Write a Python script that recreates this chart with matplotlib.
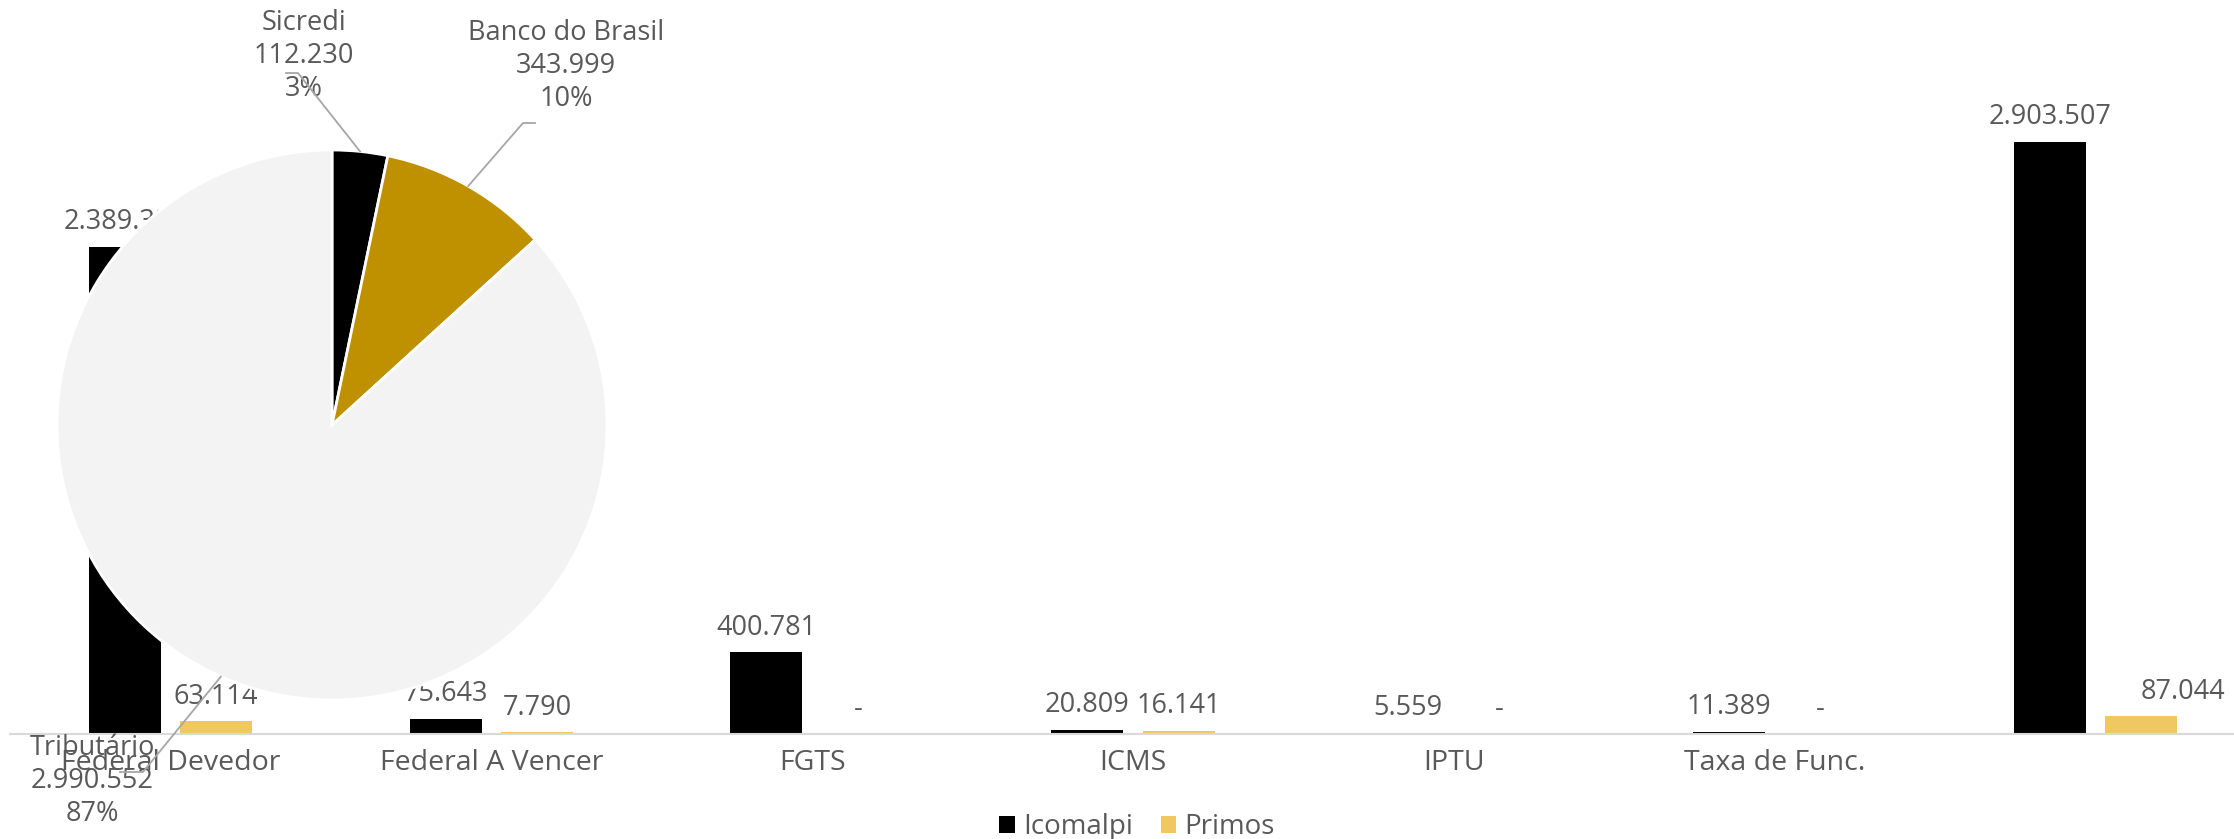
import matplotlib
matplotlib.use("Agg")
import matplotlib.pyplot as plt
import numpy as np
from matplotlib.patches import Patch

# data
categories = ["Federal Devedor", "Federal A Vencer", "FGTS", "ICMS", "IPTU", "Taxa de Func.", ""]
icomalpi = [2389326, 75643, 400781, 20809, 5559, 11389, 2903507]
primos = [63114, 7790, 0, 16141, 0, 0, 87044]

pie_labels = ["Sicredi", "Banco do Brasil", "Tributário"]
pie_values = [112230, 343999, 2990552]

TEXT = "#595959"
BLACK = "#000000"
YELLOW = "#F0C862"
GOLD = "#BF9000"
LIGHT = "#F3F3F3"
FS = 19.5

plt.rcParams["font.family"] = ["Open Sans", "DejaVu Sans"]

W, H = 2234, 839
fig = plt.figure(figsize=(W / 100, H / 100), dpi=100)


def fmt(v):
    return f"{v:,.0f}".replace(",", ".") if v else "-"


# bar chart (plot area runs a little past the right edge, as in the source)
ax = fig.add_axes([10 / W, 105 / H, 2246 / W, 694 / H])
x = np.arange(len(categories))
bw, off = 0.2245, 0.1425
ax.bar(x - off, icomalpi, bw, color=BLACK, label="Icomalpi")
ax.bar(x + off, primos, bw, color=YELLOW, label="Primos")
ax.set_xlim(-0.5, len(categories) - 0.5)
ax.set_ylim(0, max(icomalpi) * 694 / 592)

label_dx = {("Primos", 6): 30}
for name, vals, sign in (("Icomalpi", icomalpi, -1), ("Primos", primos, 1)):
    for i, v in enumerate(vals):
        ax.annotate(fmt(v), (x[i] + sign * off, v), xytext=(label_dx.get((name, i), 0), 12.6),
                    textcoords="offset points", ha="center", va="baseline",
                    fontsize=FS, color=TEXT)

for s in ("top", "left", "right"):
    ax.spines[s].set_visible(False)
ax.spines["bottom"].set_color("#D9D9D9")
ax.spines["bottom"].set_linewidth(1.5)
ax.set_yticks([])
ax.set_xticks(x)
ax.set_xticklabels(categories)
ax.tick_params(axis="x", length=0, pad=11, labelsize=20.5, labelcolor=TEXT)

handles = [Patch(facecolor=BLACK, label="Icomalpi"), Patch(facecolor=YELLOW, label="Primos")]
fig.legend(handles=handles, loc="center", bbox_to_anchor=(1137 / W, 12 / H), ncol=2,
           frameon=False, fontsize=20, labelcolor=TEXT, handlelength=0.55, handleheight=0.55,
           handletextpad=0.3, columnspacing=1.0, borderaxespad=0)

# pie drawn over the bars
cx, cy, r = 332, 425, 275
pax = fig.add_axes([(cx - r) / W, (H - cy - r) / H, 2 * r / W, 2 * r / H], zorder=5)
pax.patch.set_visible(False)
pax.pie(pie_values, colors=[BLACK, GOLD, LIGHT], startangle=90, counterclock=False,
        wedgeprops=dict(edgecolor="white", linewidth=2))
pax.set_xlim(-1, 1)
pax.set_ylim(-1, 1)
pax.axis("off")


def to_pie(px, py):
    return (px - cx) / r, (cy - py) / r


total = sum(pie_values)
pct = [v / total * 100 for v in pie_values]
mids = np.cumsum(pie_values) / total - np.array(pie_values) / total / 2

# label layout in pixels: text centre x, first line y, leader tick (outer x, inner x, y)
label_pos = [(304, 23, 286, 298, 73), (566, 33, 535, 523, 123), (92, 748, 120, 143, 772)]
line_gap = 33

for name, v, p, m, (tx, ty, t0, t1, tyy) in zip(pie_labels, pie_values, pct, mids, label_pos):
    for k, line in enumerate([name, fmt(v), f"{p:.0f}%"]):
        u, w = to_pie(tx, ty + k * line_gap)
        pax.text(u, w, line, ha="center", va="center", fontsize=FS, color=TEXT, zorder=6)
    theta = 2 * np.pi * m
    ex, ey = np.sin(theta), np.cos(theta)
    a = to_pie(t0, tyy)
    b = to_pie(t1, tyy)
    pax.plot([a[0], b[0], ex], [a[1], b[1], ey], color="#A6A6A6", lw=1.3, clip_on=False, zorder=7)

fig.savefig("out.png", dpi=100)
